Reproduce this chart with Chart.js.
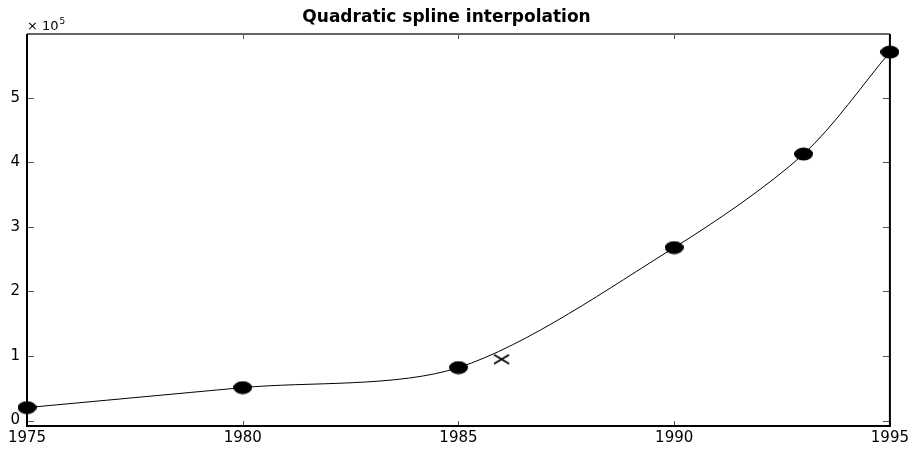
<!DOCTYPE html>
<html>
<head>
<meta charset="utf-8">
<script src="https://cdn.jsdelivr.net/npm/chart.js@4"></script>
<style>
  html, body { margin: 0; padding: 0; background: #fff; }
  #wrap { width: 912px; height: 451px; }
</style>
</head>
<body>
<div id="wrap"><canvas id="chart" width="912" height="451"></canvas></div>
<script>
// data points
const years = [1975, 1980, 1985, 1990, 1993, 1995];
const values = [20000, 51000, 82000, 268000, 413000, 571000];
const queryYear = [1986];
const queryValue = [95000];
const xTicks = [1975, 1980, 1985, 1990, 1995];
const yTicks = [0, 100000, 200000, 300000, 400000, 500000];

const font = 'DejaVu Sans';

// MATLAB-ish stretched markers
function ellipseMarker() {
  const c = document.createElement('canvas');
  c.width = 19; c.height = 14;
  const g = c.getContext('2d');
  g.fillStyle = '#000';
  g.beginPath();
  g.ellipse(9.5, 7, 9.5, 6.5, 0, 0, Math.PI * 2);
  g.fill();
  return c;
}
function crossMarker() {
  const c = document.createElement('canvas');
  c.width = 17; c.height = 11;
  const g = c.getContext('2d');
  g.strokeStyle = '#000';
  g.lineWidth = 1.8;
  g.beginPath();
  g.moveTo(1, 1); g.lineTo(16, 10);
  g.moveTo(16, 1); g.lineTo(1, 10);
  g.stroke();
  return c;
}

const boxPlugin = {
  id: 'box',
  afterDraw(chart) {
    const { ctx, chartArea: a, scales: { x, y } } = chart;
    ctx.save();
    // inward ticks
    ctx.strokeStyle = '#555';
    ctx.lineWidth = 1;
    ctx.beginPath();
    yTicks.forEach(v => {
      const py = Math.round(y.getPixelForValue(v)) + 0.5;
      ctx.moveTo(a.left, py); ctx.lineTo(a.left + 7, py);
      ctx.moveTo(a.right, py); ctx.lineTo(a.right - 7, py);
    });
    xTicks.forEach(v => {
      const px = Math.round(x.getPixelForValue(v)) + 0.5;
      ctx.moveTo(px, a.top); ctx.lineTo(px, a.top + 5);
      ctx.moveTo(px, a.bottom); ctx.lineTo(px, a.bottom - 5);
    });
    ctx.stroke();
    // frame
    ctx.lineWidth = 2;
    ctx.strokeStyle = '#666';
    ctx.beginPath();
    ctx.moveTo(a.left, a.top); ctx.lineTo(a.right, a.top);
    ctx.stroke();
    ctx.strokeStyle = '#000';
    ctx.beginPath();
    ctx.moveTo(a.left, a.top); ctx.lineTo(a.left, a.bottom);
    ctx.lineTo(a.right, a.bottom); ctx.lineTo(a.right, a.top);
    ctx.stroke();
    // exponent label
    ctx.fillStyle = '#000';
    ctx.textBaseline = 'alphabetic';
    ctx.font = '13px ' + font;
    const base = '\u00d7 10';
    ctx.fillText(base, a.left, a.top - 4);
    const w = ctx.measureText(base).width;
    ctx.font = '9px ' + font;
    ctx.fillText('5', a.left + w + 1, a.top - 10);
    ctx.restore();
  }
};

new Chart(document.getElementById('chart'), {
  type: 'scatter',
  data: {
    datasets: [
      {
        data: years.map((yr, i) => ({ x: yr, y: values[i] })),
        showLine: true,
        tension: 0.3,
        borderColor: '#000',
        borderWidth: 1,
        pointStyle: ellipseMarker(),
        clip: false
      },
      {
        data: queryYear.map((yr, i) => ({ x: yr, y: queryValue[i] })),
        showLine: false,
        pointStyle: crossMarker(),
        clip: false
      }
    ]
  },
  options: {
    responsive: false,
    animation: false,
    events: [],
    layout: { padding: { left: 0, right: 19, top: 0, bottom: 0 } },
    plugins: {
      legend: { display: false },
      tooltip: { enabled: false },
      title: {
        display: true,
        text: 'Quadratic spline interpolation',
        color: '#000',
        font: { family: font, size: 17, weight: 'bold' },
        padding: { top: 7, bottom: 6.6 }
      }
    },
    scales: {
      x: {
        type: 'linear',
        min: 1975,
        max: 1995,
        grid: { display: false, drawTicks: false },
        border: { display: false },
        afterBuildTicks: s => { s.ticks = xTicks.map(v => ({ value: v })); },
        afterFit: s => { s.height = 25; },
        ticks: {
          color: '#000',
          padding: 3,
          maxRotation: 0,
          font: { family: font, size: 15 },
          callback: v => String(v)
        }
      },
      y: {
        min: -8500,
        max: 599000,
        grid: { display: false, drawTicks: false },
        border: { display: false },
        afterBuildTicks: s => { s.ticks = yTicks.map(v => ({ value: v })); },
        afterFit: s => { s.width = 27; },
        ticks: {
          color: '#000',
          padding: 7,
          font: { family: font, size: 15 },
          callback: v => String(v / 100000)
        }
      }
    }
  },
  plugins: [boxPlugin]
});
</script>
</body>
</html>
